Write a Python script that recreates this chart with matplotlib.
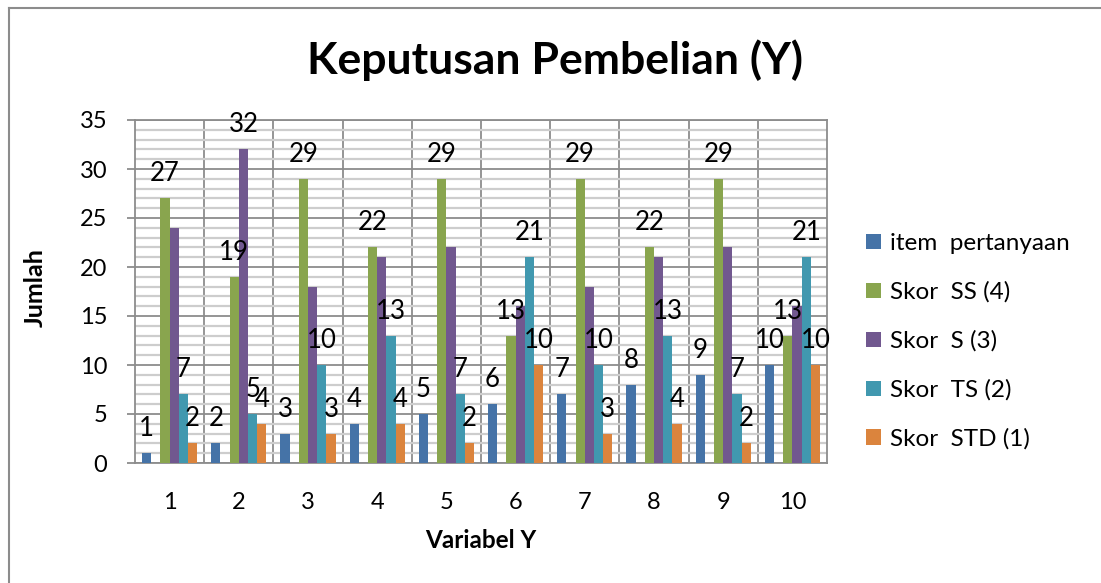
import matplotlib
matplotlib.use("Agg")
import matplotlib.pyplot as plt
from matplotlib.lines import Line2D
from matplotlib.ticker import FixedLocator, MultipleLocator

plt.rcParams['font.family'] = ['Lato', 'DejaVu Sans']

categories = ['1', '2', '3', '4', '5', '6', '7', '8', '9', '10']
series_names = ['item  pertanyaan', 'Skor  SS (4)', 'Skor  S (3)', 'Skor  TS (2)', 'Skor  STD (1)']
item = [1, 2, 3, 4, 5, 6, 7, 8, 9, 10]
skor_ss = [27, 19, 29, 22, 29, 13, 29, 22, 29, 13]
skor_s = [24, 32, 18, 21, 22, 16, 18, 21, 22, 16]
skor_ts = [7, 5, 10, 13, 7, 21, 10, 13, 7, 21]
skor_std = [2, 4, 3, 4, 2, 10, 3, 4, 2, 10]
# which points carry a data label (the S series only has one label in the source)
label_s = [False, True, False, False, False, False, False, False, False, False]

colors = ['#4573A7', '#89A54E', '#71588F', '#4198AF', '#DB843D']
values = [item, skor_ss, skor_s, skor_ts, skor_std]
label_flags = [[True] * 10, [True] * 10, label_s, [True] * 10, [True] * 10]
slots = [0, 2, 3, 4, 5]  # slot 1 is an empty series in the source chart

W, H = 1101, 583
fig = plt.figure(figsize=(W / 100, H / 100), dpi=100)
ax = fig.add_axes([135 / W, 1 - 463 / H, (827 - 135) / W, (463 - 120) / H])

n = len(categories)
xs = list(range(n))
bw = 1 / 7.5
handles = []
for s, (vals, col, slot, flags) in enumerate(zip(values, colors, slots, label_flags)):
    pos = [x - 0.5 + 0.75 * bw + (slot + 0.5) * bw for x in xs]
    bars = ax.bar(pos, vals, width=bw, color=col, zorder=3, linewidth=0)
    handles.append(bars)
    for p, v, f in zip(pos, vals, flags):
        if f:
            ax.annotate(str(v), (p, v), xytext=(0, 17), textcoords='offset pixels',
                        ha='center', va='baseline', fontsize=18.5, color='black', zorder=5)

ax.set_xlim(-0.5, n - 0.5)
ax.set_ylim(0, 35)
ax.set_xticks(xs)
ax.set_xticklabels(categories)
ax.yaxis.set_major_locator(MultipleLocator(5))
ax.yaxis.set_minor_locator(MultipleLocator(1))
ax.xaxis.set_minor_locator(FixedLocator([x + 0.5 for x in xs[:-1]]))

ax.grid(which='major', axis='y', color='#8c8c8c', linewidth=1.3, zorder=1)
ax.grid(which='minor', axis='y', color='#cdcdcd', linewidth=1.6, zorder=0)
ax.grid(which='minor', axis='x', color='#8c8c8c', linewidth=1.3, zorder=1)
for sp in ax.spines.values():
    sp.set_color('#8c8c8c')
    sp.set_linewidth(1.3)

ax.tick_params(axis='x', which='both', length=0, pad=21, labelsize=17)
ax.tick_params(axis='y', which='major', length=6, width=1.3, color='#8c8c8c', pad=14, labelsize=17)
ax.tick_params(axis='y', which='minor', length=0)

fig.text(555 / W, 1 - 60 / H, 'Keputusan Pembelian (Y)', ha='center', va='center',
         fontsize=32, fontweight='bold')
fig.text(35 / W, 1 - 288 / H, 'Jumlah', ha='center', va='center', rotation=90,
         fontsize=18, fontweight='bold')
fig.text(481 / W, 1 - 540 / H, 'Variabel Y', ha='center', va='center',
         fontsize=17.5, fontweight='bold')

leg = fig.legend(handles, series_names, loc='upper left', bbox_to_anchor=(866 / W, 1 - 233 / H),
                 frameon=False, fontsize=17.5, handlelength=0.62, handleheight=0.62,
                 handletextpad=0.37, labelspacing=1.13, borderaxespad=0, borderpad=0)

# chart area border (only left and top edges are visible in the source)
fig.add_artist(Line2D([8.5 / W, 8.5 / W], [0, 1 - 8 / H], color='#8c8c8c', linewidth=1.5))
fig.add_artist(Line2D([8.5 / W, 1], [1 - 8 / H, 1 - 8 / H], color='#8c8c8c', linewidth=1.5))

fig.savefig('out.png', dpi=100)
